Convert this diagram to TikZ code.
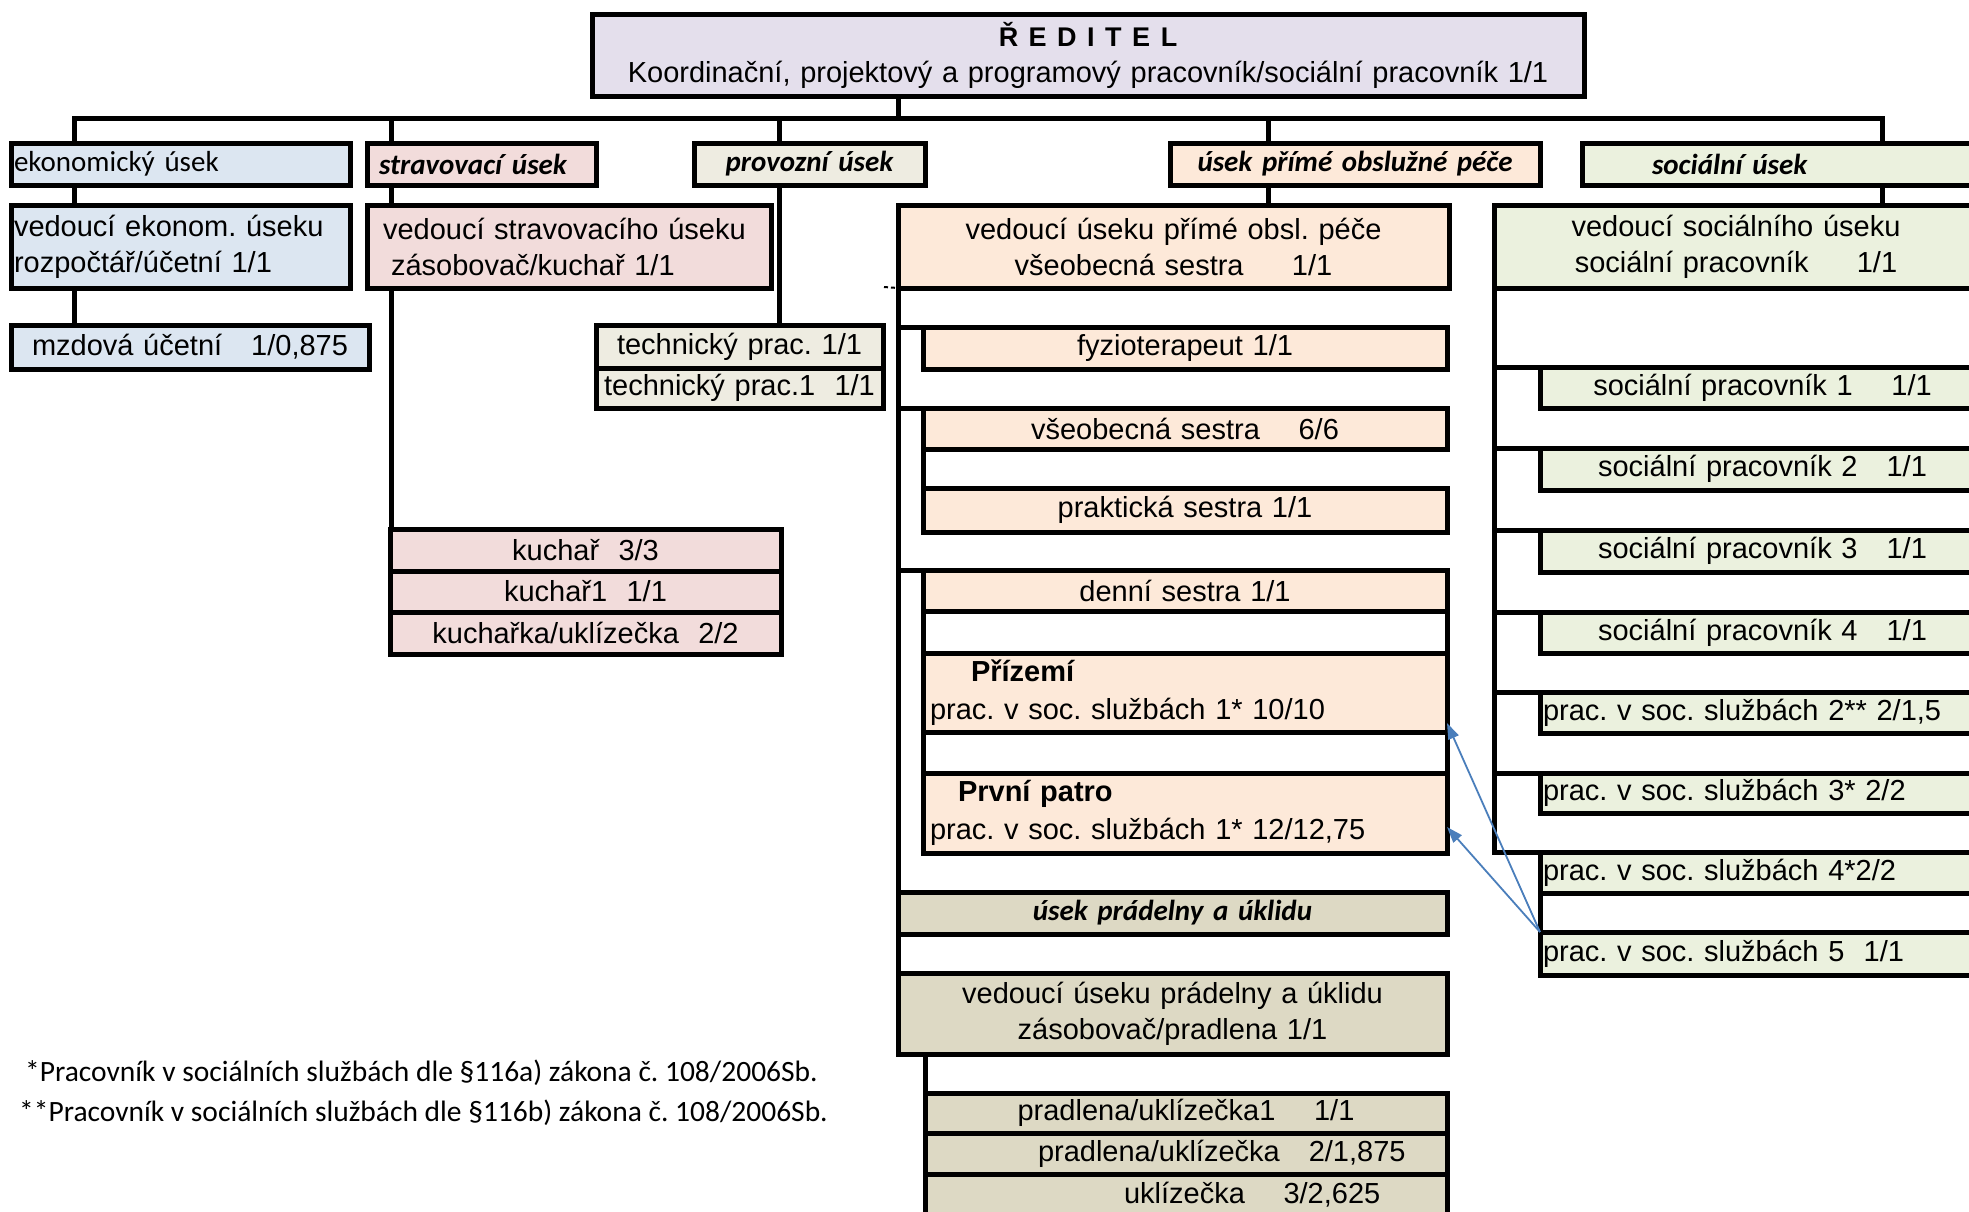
\documentclass[tikz,border=0pt]{standalone}
\usepackage{fontspec}
\setmainfont{Liberation Sans}
\newfontfamily\calibri{Carlito}
\usetikzlibrary{arrows.meta}
\definecolor{dirfill}{HTML}{E4DFEC}
\definecolor{ekonfill}{HTML}{DCE6F1}
\definecolor{stravfill}{HTML}{F2DCDB}
\definecolor{provfill}{HTML}{EEECE1}
\definecolor{primefill}{HTML}{FDE9D9}
\definecolor{socfill}{HTML}{EBF1DE}
\definecolor{pradfill}{HTML}{DDD9C4}
\definecolor{hintblue}{HTML}{4A7EBB}
\def\cellfont{\fontsize{29}{36}\selectfont}
\def\secfont{\calibri\bfseries\itshape\fontsize{29}{36}\selectfont}
\frenchspacing
\tikzset{
  orgbox/.style={draw, line width=5pt, inner xsep=3pt, inner ysep=0pt, outer sep=0pt,
    anchor=north west, align=center, font=\cellfont},
  secbox/.style={orgbox, font=\secfont},
  link/.style={line width=5pt, line cap=rect, line join=miter},
  hint/.style={draw=hintblue, line width=1.8pt, -{Triangle[length=16pt,width=11pt]}},
  note/.style={anchor=west, inner sep=0pt, font=\calibri\fontsize{29.5}{36}\selectfont}
}

\begin{document}
\begin{tikzpicture}[x=1pt, y=-1pt]
			%%%%% START %%%%%
			\useasboundingbox (0,0) rectangle (1969,1211);
			\clip (0,0) rectangle (1969,1211);
			
			% reditel
			\node[orgbox, fill=dirfill, text width=986, minimum height=82] (dir) at (592,14)
			{{\bfseries\fontsize{27}{27}\selectfont Ř\kern10.5pt E\kern10.5pt D\kern10.5pt I\kern10.5pt T\kern10.5pt E\kern10.5pt L}\\
			Koordinační, projektový a programový pracovník/sociální pracovník 1/1};
			
			\coordinate (busL) at (74,118);
			\coordinate (busM) at (898,118);
			\coordinate (busR) at (1882,118);
			\coordinate (dropS) at (391,118);
			\coordinate (dropP) at (779,118);
			\coordinate (dropO) at (1268,118);
			
			% useky
			\node[secbox, fill=ekonfill, font=\calibri\cellfont, align=left, text width=333, minimum height=42] (ekon) at (11,143) {ekonomický úsek};
			\node[secbox, fill=stravfill, align=left, text width=223, minimum height=42] (strav) at (367,143) {\hspace*{9pt}stravovací úsek};
			\node[secbox, fill=provfill, text width=225, minimum height=42] (prov) at (694,143) {provozní úsek};
			\node[secbox, fill=primefill, text width=364, minimum height=42] (prime) at (1170,143) {úsek přímé obslužné péče};
			\node[secbox, fill=socfill, align=left, text width=402, minimum height=42] (soc) at (1582,143) {\hspace*{67pt}sociální úsek};
			
			% vedouci
			\node[orgbox, fill=ekonfill, align=left, text width=333, minimum height=83] (ekonVed) at (11,205) {vedoucí ekonom. úseku\\rozpočtář/účetní 1/1};
			\node[orgbox, fill=stravfill, align=left, text width=398, minimum height=83] (stravVed) at (367,205) {\hspace*{13pt}vedoucí stravovacího úseku\\\hspace*{21pt}zásobovač/kuchař 1/1};
			\node[orgbox, fill=primefill, text width=545, minimum height=83] (primeVed) at (898,205) {vedoucí úseku přímé obsl. péče\\všeobecná sestra~~~~~1/1};
			\node[orgbox, fill=socfill, text width=478, minimum height=83] (socVed) at (1494,205) {vedoucí sociálního úseku\\sociální pracovník~~~~~1/1};
			
			% ekonomicky
			\node[orgbox, fill=ekonfill, text width=352, minimum height=44] (mzda) at (11,325) {mzdová účetní~~~1/0,875};
			
			% provozni
			\node[orgbox, fill=provfill, text width=281, minimum height=43] (tech1) at (596,325) {technický prac. 1/1};
			\node[orgbox, fill=provfill, text width=281, minimum height=40] (tech2) at (tech1.south west) {technický prac.1~~1/1};
			
			% stravovaci
			\node[orgbox, fill=stravfill, text width=385, minimum height=42] (kuch1) at (390,529) {kuchař~~3/3};
			\node[orgbox, fill=stravfill, text width=385, minimum height=41] (kuch2) at (kuch1.south west) {kuchař1~~1/1};
			\node[orgbox, fill=stravfill, text width=385, minimum height=42] (kuch3) at (kuch2.south west) {kuchařka/uklízečka~~2/2};
			
			% prima pece
			\node[orgbox, fill=primefill, text width=518, minimum height=42] (fyzio) at (923,327) {fyzioterapeut 1/1};
			\node[orgbox, fill=primefill, text width=518, minimum height=41] (vseob) at (923,408) {všeobecná sestra~~~~6/6};
			\node[orgbox, fill=primefill, text width=518, minimum height=44] (prakt) at (923,488) {praktická sestra 1/1};
			\node[orgbox, fill=primefill, text width=518, minimum height=41] (denni) at (923,570) {denní sestra 1/1};
			\node[orgbox, fill=primefill, align=left, text width=518, minimum height=79] (prizemi) at (923,653) {\hspace*{45pt}\textbf{Přízemí}\\[2pt]\hspace*{4pt}prac. v soc. službách 1* 10/10};
			\node[orgbox, fill=primefill, align=left, text width=518, minimum height=80] (prvni) at (923,773) {\hspace*{32pt}\textbf{První patro}\\[2pt]\hspace*{4pt}prac. v soc. službách 1* 12/12,75};
			
			% pradelna a uklid
			\node[secbox, fill=pradfill, text width=543, minimum height=42] (usekPrad) at (898,892) {úsek prádelny a úklidu};
			\node[orgbox, fill=pradfill, text width=543, minimum height=81] (pradVed) at (898,973) {vedoucí úseku prádelny a úklidu\\zásobovač/pradlena 1/1};
			\node[orgbox, fill=pradfill, text width=516, minimum height=40] (prad1) at (925,1093) {pradlena/uklízečka1~~~~1/1};
			\node[orgbox, fill=pradfill, align=left, text width=516, minimum height=41] (prad2) at (prad1.south west) {\hspace*{110pt}pradlena/uklízečka~~~2/1,875};
			\node[orgbox, fill=pradfill, align=left, text width=516, minimum height=42] (ukl) at (prad2.south west) {\hspace*{196pt}uklízečka~~~~3/2,625};
			
			% socialni
			\node[orgbox, fill=socfill, text width=439, minimum height=41] (soc1) at (1540,367) {sociální pracovník 1~~~~1/1};
			\node[orgbox, fill=socfill, text width=439, minimum height=42] (soc2) at (1540,448) {sociální pracovník 2~~~1/1};
			\node[orgbox, fill=socfill, text width=439, minimum height=42] (soc3) at (1540,530) {sociální pracovník 3~~~1/1};
			\node[orgbox, fill=socfill, text width=439, minimum height=41] (soc4) at (1540,612) {sociální pracovník 4~~~1/1};
			\node[orgbox, fill=socfill, align=left, text width=439, minimum height=41] (soc5) at (1540,692) {prac. v soc. službách 2** 2/1,5};
			\node[orgbox, fill=socfill, align=left, text width=439, minimum height=40] (soc6) at (1540,773) {prac. v soc. službách 3* 2/2};
			\node[orgbox, fill=socfill, align=left, text width=439, minimum height=41] (soc7) at (1540,852) {prac. v soc. službách 4*2/2};
			\node[orgbox, fill=socfill, align=left, text width=439, minimum height=43] (soc8) at (1540,932) {prac. v soc. službách 5~~1/1};
			
			% spojnice
			\draw[link] (busL |- ekon.north) -- (busL) -- (busR) -- (busR |- soc.north);
			\draw[link] (busM |- dir.south) -- (busM);
			\draw[link] (dropS) -- (dropS |- strav.north);
			\draw[link] (dropP) -- (dropP |- prov.north);
			\draw[link] (dropO) -- (dropO |- prime.north);
			\draw[link] (busL |- ekon.south) -- (busL |- ekonVed.north);
			\draw[link] (busL |- ekonVed.south) -- (busL |- mzda.north);
			\draw[link] (dropS |- strav.south) -- (dropS |- stravVed.north);
			\draw[link] (dropS |- stravVed.south) -- (dropS |- kuch1.north);
			\draw[link] (dropP |- prov.south) -- (dropP |- tech1.north);
			\draw[link] (dropO |- prime.south) -- (dropO |- primeVed.north);
			\draw[link] (busR |- soc.south) -- (busR |- socVed.north);
			
			\coordinate (tick) at (884,287);
			\draw[line width=2pt, dash pattern=on 4pt off 3pt] (tick) -- (primeVed.south west);
			\draw[link] (primeVed.south west) -- (pradVed.north west);
			\draw[link] (primeVed.south west |- fyzio.north) -- (fyzio.north west);
			\draw[link] (primeVed.south west |- vseob.north) -- (vseob.north west);
			\draw[link] (vseob.south west) -- (prakt.north west);
			\draw[link] (primeVed.south west |- denni.north) -- (denni.north west);
			\draw[link] (denni.south west) -- (prizemi.north west);
			\draw[link] (denni.south east) -- (prizemi.north east);
			\draw[link] (prizemi.south west) -- (prvni.north west);
			\draw[link] (prizemi.south east) -- (prvni.north east);
			\draw[link] (prad1.north west |- pradVed.south) -- (prad1.north west);
			
			\draw[link] (socVed.south west) -- (socVed.south west |- soc7.north);
			\foreach \s in {soc1,soc2,soc3,soc4,soc5,soc6,soc7}
				\draw[link] (socVed.south west |- \s.north) -- (\s.north west);
			\draw[link] (soc7.south west) -- (soc8.north west);
			
			\draw[hint] (soc8.north west) -- ([yshift=9pt]prizemi.south east);
			\draw[hint] (soc8.north west) -- ([yshift=26pt]prvni.south east);
			
			% poznamky
			\node[note] (fn1) at (25,1073) {*Pracovník v sociálních službách dle §116a) zákona č. 108/2006Sb.};
			\node[note] (fn2) at (19,1113) {**Pracovník v sociálních službách dle §116b) zákona č. 108/2006Sb.};
			%%%%% END %%%%%
\end{tikzpicture}
\end{document}
